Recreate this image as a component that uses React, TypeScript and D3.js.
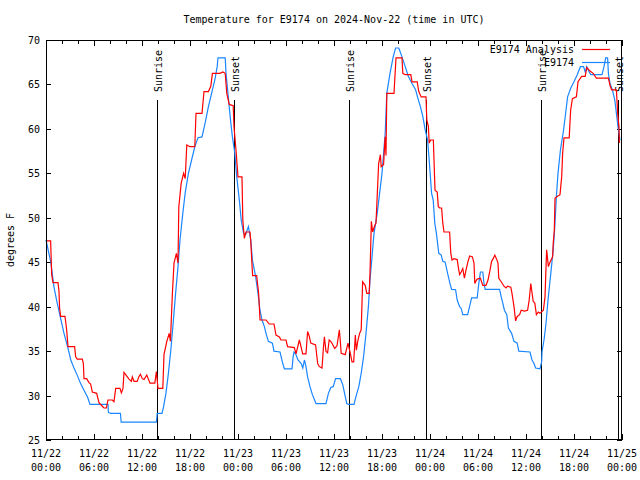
import React from "react";
import * as d3 from "d3";

const TITLE = "Temperature for E9174 on 2024-Nov-22 (time in UTC)";
const Y_LABEL = "degrees F";
const START = Date.UTC(2024, 10, 22, 0, 0);
const END = Date.UTC(2024, 10, 25, 0, 0);
const Y_TICKS = [25, 30, 35, 40, 45, 50, 55, 60, 65, 70];
const SERIES_NAMES = ["E9174 Analysis", "E9174"];
const SUNRISE_HOURS = [13.9, 37.92, 61.93];
const SUNSET_HOURS = [23.56, 47.56, 71.56];

// [hours since 2024-11-22 00:00 UTC, temperature °F]
const analysis: [number, number][] = [
  [0.08, 47.4], [0.58, 47.4], [0.62, 46.2], [0.71, 43.6], [0.875, 42.7], [1.5, 42.7], [1.625, 41.7], [1.7, 39.8],
  [1.83, 38.9], [2.375, 38.9], [2.46, 38.3], [2.58, 37.4], [2.75, 35.5], [3.58, 35.5], [3.7, 34.4], [3.9, 34.1],
  [4.54, 34.1], [4.67, 33.6], [4.75, 31.9], [5.08, 31.9], [5.375, 31.45], [5.58, 31.3], [5.79, 30.4], [6.33, 30.25],
  [6.625, 29.2], [7.04, 28.8], [7.25, 28.6], [7.54, 28.6], [7.75, 29.5], [8.29, 29.5], [8.5, 29.3], [8.71, 30.8],
  [9.25, 30.8], [9.42, 30.3], [9.625, 30.8], [9.75, 32.6], [9.96, 32.35], [10.17, 32.1], [10.375, 31.85], [10.67, 31.6],
  [10.79, 32.1], [11.0, 31.6], [11.4, 31.6], [11.6, 32.1], [11.8, 32.4], [12.04, 31.9], [12.25, 31.8], [12.6, 32.3],
  [13.0, 31.4], [13.6, 31.4], [13.8, 32.7], [14.0, 30.8], [14.6, 30.8], [14.75, 34.6], [15.1, 36.1], [15.4, 37],
  [15.55, 36.1], [15.8, 41.5], [16.0, 44.9], [16.3, 46], [16.5, 44.9], [16.6, 51.25], [16.9, 53.9], [17.2, 55],
  [17.4, 54.4], [17.6, 58.2], [18.0, 58], [18.6, 58], [18.75, 61.75], [19.5, 61.75], [19.75, 64.2], [20.3, 64.2],
  [20.6, 64.8], [20.8, 66.25], [21.75, 66.25], [22.1, 66.4], [22.4, 66.25], [22.6, 64], [22.9, 62.75], [23.4, 62.6],
  [23.5, 60.25], [23.75, 57.6], [24.0, 54.6], [24.5, 54.6], [24.6, 49.75], [24.79, 47.7], [25.0, 48.4], [25.5, 48.4],
  [25.6, 47.3], [25.75, 44.7], [25.83, 43.5], [26.33, 43.5], [26.58, 41.5], [26.75, 38.5], [27.5, 38.5], [27.9, 38.05],
  [28.5, 38.05], [28.75, 36.8], [29.17, 36.6], [29.375, 36.25], [30.0, 36.25], [30.2, 35.5], [31.04, 35.4], [31.25, 34.7],
  [31.67, 36.25], [31.875, 35.5], [32.08, 34.7], [32.5, 34.7], [32.7, 37.2], [32.9, 36.7], [33.1, 35.9], [33.7, 35.7],
  [33.96, 33.6], [34.17, 33.25], [34.5, 33.1], [34.67, 35.3], [34.8, 36.6], [35.0, 34.95], [35.2, 34.8], [35.4, 36.25],
  [35.6, 36.1], [35.8, 35.8], [36.08, 35.3], [36.375, 35.6], [36.67, 37.4], [36.79, 36.1], [36.9, 34.75], [37.4, 34.6],
  [37.75, 35.9], [38.04, 34.75], [38.25, 33.8], [38.46, 33.8], [38.67, 36.8], [38.8, 35.1], [39.0, 36.25], [39.2, 37],
  [39.4, 37.4], [39.58, 42.8], [39.9, 42.4], [40.1, 41.5], [40.4, 41.5], [40.5, 43.75], [40.67, 49.6], [40.83, 48.4],
  [41.08, 49.1], [41.25, 49.4], [41.58, 56.1], [41.8, 57.1], [41.9, 55.75], [42.2, 56], [42.33, 58.2], [42.4, 59.1],
  [42.5, 57], [42.6, 64], [43.5, 64], [43.75, 68], [44.5, 68], [44.6, 66.25], [44.9, 66.1], [45.6, 66.1],
  [45.75, 65.3], [46.4, 65.3], [46.6, 64.2], [46.9, 63.6], [47.5, 63.6], [47.6, 61], [47.8, 60.25], [47.9, 58.4],
  [48.08, 58.75], [48.42, 58.75], [48.625, 53.1], [48.9, 52.9], [49.04, 51.25], [49.2, 51.1], [49.45, 51.1], [49.6, 49.4],
  [49.75, 48.4], [50.45, 48.4], [50.6, 46], [50.75, 45.25], [51.0, 45.4], [51.4, 45.3], [51.6, 44.1], [51.7, 43.6],
  [51.9, 43.9], [52.1, 44.3], [52.3, 43.2], [52.5, 44.1], [52.75, 45.1], [52.96, 45.7], [53.3, 45.6], [53.5, 44.9],
  [53.6, 42.6], [53.75, 42.9], [53.9, 43.1], [54.3, 43.2], [54.6, 42.4], [55.0, 42.4], [55.25, 43], [55.5, 44.1],
  [55.7, 45.1], [55.9, 45.4], [56.1, 45.8], [56.3, 45.4], [56.5, 44.9], [56.6, 43.2], [56.9, 42.8], [57.25, 42.3],
  [57.5, 42.1], [57.7, 42.3], [58.1, 42.2], [58.25, 41.5], [58.5, 40], [58.7, 38.4], [58.9, 38.9], [59.2, 39.1],
  [59.4, 39.6], [59.8, 39.5], [60.2, 39.6], [60.4, 40.75], [60.6, 42.6], [60.7, 41.9], [60.9, 40.6], [61.1, 40.4],
  [61.3, 39.1], [61.54, 39.4], [61.75, 39.25], [62.17, 39.6], [62.375, 41.1], [62.58, 46.4], [62.8, 44.5], [63.0, 45],
  [63.33, 45.6], [63.4, 47.1], [63.54, 48.6], [63.625, 52.2], [63.9, 52.4], [64.25, 52.6], [64.46, 54.6], [64.58, 57.25],
  [64.75, 59], [65.4, 59], [65.58, 62.1], [65.8, 63.4], [66.3, 63.6], [66.5, 65.3], [66.96, 65.9], [67.4, 65.9],
  [67.6, 66.9], [68.0, 66.5], [68.4, 66.25], [68.8, 65.7], [70.3, 65.7], [70.5, 64.9], [70.7, 64.4], [71.3, 64.4],
  [71.46, 61.75], [71.625, 60.25], [71.67, 58.4],
];

const station: [number, number][] = [
  [0, 47.5], [0.6, 45], [1.0, 42.2], [1.4, 40.4], [1.8, 38.8], [2.25, 37], [2.7, 35.5], [3.1, 34],
  [3.5, 33.1], [3.9, 32.3], [4.3, 31.4], [4.75, 30.6], [5.2, 29.8], [5.5, 29], [7.75, 29], [7.8, 28.1],
  [8.1, 28], [9.3, 28], [9.4, 27], [13.8, 27], [13.9, 28], [14.5, 28], [14.7, 28.75], [15.0, 30.3],
  [15.3, 32.5], [15.6, 35.1], [15.9, 38.2], [16.2, 41.5], [16.5, 44.5], [16.75, 47.5], [17.1, 50.5], [17.4, 52.8],
  [17.8, 55], [18.2, 56.5], [18.6, 58], [19.0, 59], [19.5, 59.1], [19.9, 60.7], [20.3, 62.5], [20.7, 64],
  [21.1, 65.5], [21.4, 67], [21.5, 68], [22.4, 68], [22.5, 66.3], [22.7, 64.4], [22.9, 62.5], [23.1, 60.7],
  [23.3, 59.1], [23.6, 57.3], [23.8, 55], [24.2, 51.7], [24.4, 49.75], [24.7, 48.25], [24.95, 48.1], [25.3, 49],
  [25.6, 47.5], [25.8, 45.25], [26.2, 43.4], [26.5, 41.5], [26.75, 39.6], [27.0, 38.5], [27.3, 37.75], [27.5, 37],
  [27.8, 36.1], [28.3, 35.9], [28.5, 35], [29.25, 34.9], [29.6, 33.6], [29.8, 33], [30.75, 33], [30.9, 34.4],
  [31.0, 34.9], [31.2, 34.7], [31.5, 34], [31.9, 33.6], [32.1, 33.1], [32.3, 34], [32.5, 33.25], [32.7, 32.1],
  [33.0, 31], [33.3, 30.1], [33.75, 29.1], [35.0, 29.1], [35.3, 30.25], [35.6, 30.9], [35.9, 31], [36.2, 31.9],
  [36.8, 31.9], [37.1, 31.2], [37.4, 29.9], [37.6, 29.1], [37.8, 29], [38.5, 29], [38.75, 29.9], [39.1, 31],
  [39.4, 32.5], [39.7, 34.4], [40.0, 37], [40.3, 40], [40.5, 43], [40.75, 45.6], [41.0, 48.25], [41.4, 50.5],
  [41.7, 52.75], [42.0, 55], [42.2, 57.25], [42.4, 59.5], [42.6, 64], [43.0, 66.25], [43.4, 68.1], [43.7, 69.1],
  [44.1, 69.1], [44.5, 68.1], [44.9, 67], [45.3, 65.9], [45.75, 65.1], [46.2, 64.4], [46.5, 63.4], [46.8, 62.5],
  [47.1, 61.4], [47.4, 59.9], [47.7, 58.75], [47.9, 56.5], [48.2, 52.75], [48.4, 52], [48.6, 49.4], [48.8, 48.25],
  [49.1, 46], [49.4, 45.8], [49.6, 45.1], [49.9, 45], [50.2, 43.75], [50.5, 42.6], [50.7, 41.95], [51.2, 41.9],
  [51.4, 40.75], [51.7, 40], [51.9, 39.8], [52.1, 39.1], [52.7, 39.1], [53.0, 40.2], [53.2, 41], [53.9, 41],
  [54.1, 42.6], [54.3, 43.9], [54.6, 43.9], [54.75, 42.6], [54.9, 41.95], [56.7, 41.95], [56.9, 41.1], [57.1, 40.4],
  [57.3, 39.6], [57.6, 39.1], [57.8, 37.6], [58.2, 37], [58.5, 36.1], [58.9, 35.9], [59.1, 35], [60.5, 34.9],
  [60.75, 34], [61.0, 33.6], [61.2, 33.1], [61.75, 33], [61.96, 33.8], [62.0, 34.9], [62.25, 36.25], [62.5, 38.1],
  [62.75, 40.75], [63.1, 43.75], [63.4, 46.4], [63.6, 49], [63.8, 52.4], [64.0, 55], [64.3, 57.6], [64.7, 59.9],
  [65.0, 62.1], [65.2, 63.6], [65.6, 64.6], [66.0, 65.3], [66.4, 66.1], [66.8, 67], [67.2, 67], [67.4, 66.4],
  [67.6, 67], [67.9, 66.4], [68.1, 66.1], [69.5, 66.1], [69.75, 67], [69.96, 68], [70.2, 68], [70.3, 66.25],
  [70.5, 65.1], [70.8, 64.4], [71.1, 63.25], [71.3, 61.75], [71.5, 60.25], [71.75, 58.75],
];

const FONT = "'DejaVu Sans Mono', 'Liberation Mono', monospace";
const RED = "#ff0000";
const BLUE = "#1a86ff";

export default function App() {
  const W = 640, H = 480;
  const L = 46, R = 622, T = 40, B = 440;
  const hourMs = 3600 * 1000;
  const toDate = (h: number) => new Date(START + h * hourMs);

  const x = d3.scaleUtc().domain([new Date(START), new Date(END)]).range([L, R]);
  const y = d3.scaleLinear().domain([25, 70]).range([B, T]);

  const line = d3
    .line<[number, number]>()
    .x((d) => x(toDate(d[0])))
    .y((d) => y(d[1]));

  const minorTicks = x.ticks(d3.utcHour.every(2)!);
  const majorTicks = x.ticks(d3.utcHour.every(6)!);
  const fmtDate = d3.utcFormat("%m/%d");
  const fmtTime = d3.utcFormat("%H:%M");
  const px = (v: number) => Math.round(v) + 0.5;

  return (
    <svg
      width={W}
      height={H}
      style={{ position: "absolute", left: 0, top: 0, background: "#fff" }}
      fontFamily={FONT}
      fontSize={10}
    >
      <rect x={0} y={0} width={W} height={H} fill="#fff" />
      <text x={(L + R) / 2} y={23} textAnchor="middle">{TITLE}</text>
      <text transform={`translate(14,${(T + B) / 2}) rotate(-90)`} textAnchor="middle">{Y_LABEL}</text>

      {/* y ticks */}
      {Y_TICKS.map((t) => (
        <g key={"y" + t}>
          <line x1={L} x2={L + 5} y1={px(y(t))} y2={px(y(t))} stroke="#000" />
          <line x1={R - 5} x2={R} y1={px(y(t))} y2={px(y(t))} stroke="#000" />
          <text x={40} y={y(t) + 4} textAnchor="end">{t}</text>
        </g>
      ))}

      {/* x ticks */}
      {minorTicks.map((t) => (
        <g key={"m" + t.getTime()}>
          <line x1={px(x(t))} x2={px(x(t))} y1={B} y2={B - 4} stroke="#000" />
          <line x1={px(x(t))} x2={px(x(t))} y1={T} y2={T + 4} stroke="#000" />
        </g>
      ))}
      {majorTicks.map((t) => (
        <g key={"M" + t.getTime()}>
          <line x1={px(x(t))} x2={px(x(t))} y1={B} y2={B - 6} stroke="#000" />
          <line x1={px(x(t))} x2={px(x(t))} y1={T} y2={T + 6} stroke="#000" />
          <text x={x(t)} y={457} textAnchor="middle">{fmtDate(t)}</text>
          <text x={x(t)} y={471} textAnchor="middle">{fmtTime(t)}</text>
        </g>
      ))}

      {/* sunrise / sunset */}
      {SUNRISE_HOURS.map((h) => (
        <g key={"sr" + h}>
          <line x1={px(x(toDate(h)))} x2={px(x(toDate(h)))} y1={100} y2={B} stroke="#000" />
          <text transform={`translate(${x(toDate(h)) + 5},92) rotate(-90)`}>Sunrise</text>
        </g>
      ))}
      {SUNSET_HOURS.map((h) => (
        <g key={"ss" + h}>
          <line x1={px(x(toDate(h)))} x2={px(x(toDate(h)))} y1={100} y2={B} stroke="#000" />
          <text transform={`translate(${x(toDate(h)) + 5},92) rotate(-90)`}>Sunset</text>
        </g>
      ))}

      <path d={line(station) ?? ""} fill="none" stroke={BLUE} strokeWidth={1.2} />
      <path d={line(analysis) ?? ""} fill="none" stroke={RED} strokeWidth={1.2} />

      {/* legend */}
      <text x={574} y={53} textAnchor="end">{SERIES_NAMES[0]}</text>
      <line x1={582} x2={610} y1={49.5} y2={49.5} stroke={RED} strokeWidth={1.2} />
      <text x={574} y={66} textAnchor="end">{SERIES_NAMES[1]}</text>
      <line x1={582} x2={610} y1={62.5} y2={62.5} stroke={BLUE} strokeWidth={1.2} />

      {/* frame */}
      <rect x={L + 0.5} y={T + 0.5} width={R - L - 1} height={B - T - 1} fill="none" stroke="#000" />
    </svg>
  );
}
